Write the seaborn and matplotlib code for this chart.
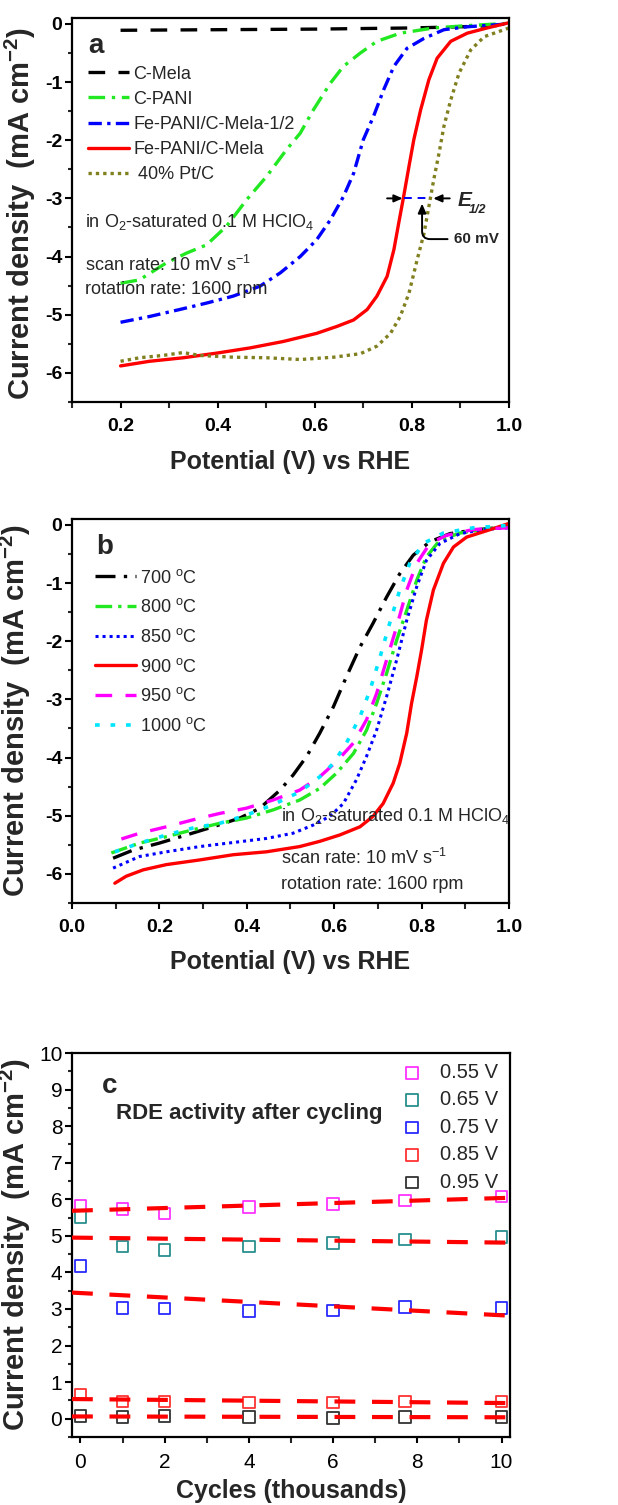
import matplotlib
matplotlib.use('Agg')
import numpy as np
import pandas as pd
import seaborn as sns
import matplotlib.pyplot as plt
from matplotlib.ticker import MultipleLocator

# ---------------- panel a: LSV curves of the catalysts ----------------
cmela_v = [0.20, 0.30, 0.40, 0.50, 0.60, 0.70, 0.80, 0.90, 1.00]
cmela_j = [-0.11, -0.105, -0.10, -0.095, -0.09, -0.08, -0.07, -0.05, -0.02]

cpani_v = [0.200, 0.239, 0.294, 0.336, 0.377, 0.418, 0.460, 0.501, 0.542, 0.570,
           0.597, 0.632, 0.659, 0.694, 0.728, 0.776, 0.845, 0.914, 1.000]
cpani_j = [-4.46, -4.40, -4.11, -3.94, -3.80, -3.48, -3.02, -2.62, -2.16, -1.88,
           -1.48, -1.02, -0.73, -0.50, -0.30, -0.16, -0.07, -0.03, 0.01]

fehalf_v = [0.200, 0.260, 0.322, 0.377, 0.432, 0.487, 0.529, 0.570, 0.604, 0.632,
            0.659, 0.680, 0.700, 0.721, 0.742, 0.763, 0.790, 0.825, 0.866, 0.914, 1.000]
fehalf_j = [-5.13, -5.03, -4.91, -4.80, -4.68, -4.51, -4.28, -4.00, -3.71, -3.37,
            -2.97, -2.57, -1.99, -1.59, -1.13, -0.73, -0.42, -0.25, -0.10, -0.05, 0.00]

fe_v = [0.200, 0.260, 0.329, 0.398, 0.467, 0.535, 0.604, 0.646, 0.680, 0.708, 0.728,
        0.749, 0.763, 0.773, 0.783, 0.794, 0.804, 0.818, 0.835, 0.852, 0.880, 0.914,
        0.955, 1.000]
fe_j = [-5.88, -5.80, -5.74, -5.66, -5.57, -5.46, -5.32, -5.20, -5.09, -4.91, -4.68,
        -4.34, -3.88, -3.42, -2.97, -2.45, -1.99, -1.48, -0.96, -0.59, -0.30, -0.16,
        -0.07, 0.02]

pt_v = [0.200, 0.239, 0.287, 0.329, 0.363, 0.432, 0.501, 0.570, 0.639, 0.694, 0.728,
        0.756, 0.776, 0.794, 0.811, 0.825, 0.835, 0.845, 0.856, 0.866, 0.880, 0.897,
        0.921, 0.949, 1.000]
pt_j = [-5.80, -5.74, -5.70, -5.65, -5.70, -5.73, -5.74, -5.77, -5.73, -5.67, -5.54,
        -5.32, -5.03, -4.63, -4.05, -3.60, -3.14, -2.68, -2.22, -1.76, -1.31, -0.85,
        -0.45, -0.22, -0.07]

e_half_fe = 0.784
e_half_pt = 0.840
e_half_j = -3.0

# ---------------- panel b: pyrolysis temperature ----------------
t700_v = [0.094, 0.140, 0.200, 0.262, 0.323, 0.384, 0.430, 0.476, 0.506, 0.537, 0.567,
          0.598, 0.628, 0.659, 0.689, 0.720, 0.750, 0.781, 0.819, 0.865, 0.918, 0.998]
t700_j = [-5.73, -5.59, -5.47, -5.33, -5.19, -5.04, -4.87, -4.56, -4.30, -3.98, -3.58,
          -3.13, -2.61, -2.10, -1.69, -1.24, -0.84, -0.52, -0.29, -0.15, -0.09, -0.03]

t800_v = [0.090, 0.155, 0.216, 0.277, 0.338, 0.399, 0.460, 0.521, 0.567, 0.605, 0.644,
          0.674, 0.697, 0.720, 0.743, 0.766, 0.789, 0.811, 0.842, 0.888, 0.941, 0.998]
t800_j = [-5.64, -5.47, -5.36, -5.24, -5.13, -5.04, -4.90, -4.73, -4.53, -4.27, -3.93,
          -3.53, -3.07, -2.55, -1.98, -1.47, -0.95, -0.55, -0.26, -0.14, -0.08, -0.03]

t850_v = [0.094, 0.155, 0.216, 0.292, 0.369, 0.445, 0.506, 0.552, 0.590, 0.621, 0.651,
          0.674, 0.697, 0.720, 0.743, 0.766, 0.789, 0.811, 0.842, 0.888, 0.941, 0.998]
t850_j = [-5.90, -5.70, -5.62, -5.53, -5.46, -5.39, -5.30, -5.16, -5.01, -4.79, -4.38,
          -3.98, -3.53, -2.95, -2.32, -1.64, -1.06, -0.61, -0.32, -0.15, -0.08, -0.05]

t900_v = [0.098, 0.124, 0.163, 0.216, 0.292, 0.369, 0.445, 0.521, 0.567, 0.613, 0.659,
          0.689, 0.712, 0.735, 0.750, 0.766, 0.777, 0.789, 0.800, 0.811, 0.827, 0.850,
          0.873, 0.903, 0.949, 0.998]
t900_j = [-6.16, -6.04, -5.93, -5.84, -5.76, -5.67, -5.62, -5.53, -5.44, -5.33, -5.19,
          -5.01, -4.79, -4.44, -4.10, -3.58, -3.07, -2.61, -2.15, -1.64, -1.12, -0.66,
          -0.38, -0.21, -0.10, 0.02]

t950_v = [0.113, 0.155, 0.216, 0.277, 0.338, 0.399, 0.460, 0.521, 0.567, 0.605, 0.644,
          0.674, 0.697, 0.720, 0.743, 0.766, 0.789, 0.819, 0.857, 0.918, 0.998]
t950_j = [-5.40, -5.30, -5.19, -5.07, -4.96, -4.87, -4.73, -4.56, -4.33, -4.07, -3.75,
          -3.35, -2.90, -2.32, -1.75, -1.12, -0.66, -0.32, -0.18, -0.08, -0.05]

t1000_v = [0.098, 0.155, 0.216, 0.277, 0.338, 0.399, 0.460, 0.521, 0.567, 0.598, 0.628,
           0.659, 0.682, 0.705, 0.727, 0.750, 0.773, 0.804, 0.850, 0.918, 0.998]
t1000_j = [-5.62, -5.47, -5.33, -5.21, -5.13, -4.99, -4.81, -4.59, -4.33, -4.10, -3.75,
           -3.30, -2.84, -2.27, -1.69, -1.12, -0.66, -0.32, -0.14, -0.05, -0.01]

# ---------------- panel c: activity after cycling ----------------
cycles = [0, 1, 2, 4, 6, 7.7, 10]
j055 = [5.83, 5.74, 5.61, 5.79, 5.88, 5.97, 6.08]
j065 = [5.52, 4.71, 4.62, 4.71, 4.81, 4.90, 4.97]
j075 = [4.17, 3.03, 3.01, 2.94, 2.96, 3.05, 3.03]
j085 = [0.66, 0.47, 0.47, 0.44, 0.44, 0.47, 0.47]
j095 = [0.07, 0.05, 0.07, 0.05, 0.02, 0.05, 0.05]
volt_labels = ['0.55 V', '0.65 V', '0.75 V', '0.85 V', '0.95 V']

sns.set_style('ticks')
plt.rcParams['font.family'] = ['Liberation Sans', 'DejaVu Sans']
plt.rcParams['mathtext.fontset'] = 'custom'
plt.rcParams['mathtext.rm'] = 'Liberation Sans'
plt.rcParams['mathtext.it'] = 'Liberation Sans:italic'
plt.rcParams['mathtext.bf'] = 'Liberation Sans:bold'
plt.rcParams['axes.unicode_minus'] = False

fig = plt.figure(figsize=(6.18, 15.05), dpi=100)
ax_a = fig.add_axes([0.1165, 0.7329, 0.7071, 0.2551])
ax_b = fig.add_axes([0.1165, 0.4000, 0.7071, 0.2551])
ax_c = fig.add_axes([0.1165, 0.0452, 0.7087, 0.2551])

ylab = 'Current density  (mA cm$^{\\mathbf{-2}}$)'


def style_axis(ax, bold=True, size=14):
    for s in ax.spines.values():
        s.set_linewidth(1.6)
        s.set_color('black')
    ax.tick_params(which='major', direction='out', length=5, width=1.5,
                   labelsize=size, colors='black', pad=2)
    ax.tick_params(which='minor', direction='out', length=3, width=1.5)
    ax.tick_params(axis='x', which='both', length=4.5, pad=7)
    if bold:
        for t in ax.get_xticklabels() + ax.get_yticklabels():
            t.set_fontweight('bold')


def line(ax, v, j, color, ls, lw, label):
    sns.lineplot(x=v, y=j, ax=ax, color=color, linestyle=ls, lw=lw,
                 label=label, sort=False, estimator=None)


# ---- a ----
line(ax_a, cmela_v, cmela_j, 'black', (0, (5, 4)), 2.4, 'C-Mela')
line(ax_a, cpani_v, cpani_j, '#22e822', (0, (5, 2, 1, 2)), 2.4, 'C-PANI')
line(ax_a, fehalf_v, fehalf_j, '#0000ff', (0, (4, 1.6, 1, 1.6)), 2.4, 'Fe-PANI/C-Mela-1/2')
line(ax_a, fe_v, fe_j, '#ff0000', '-', 2.4, 'Fe-PANI/C-Mela')
line(ax_a, pt_v, pt_j, '#808020', (0, (1, 1.2)), 2.4, ' 40% Pt/C')

ax_a.set_xlim(0.1, 1.0)
ax_a.set_ylim(-6.5, 0.1)
ax_a.xaxis.set_major_locator(MultipleLocator(0.2))
ax_a.xaxis.set_minor_locator(MultipleLocator(0.1))
ax_a.yaxis.set_major_locator(MultipleLocator(1))
ax_a.yaxis.set_minor_locator(MultipleLocator(0.5))
ax_a.set_xticks([0.2, 0.4, 0.6, 0.8, 1.0])
ax_a.set_xticklabels(['0.2', '0.4', '0.6', '0.8', '1.0'])
style_axis(ax_a)
ax_a.legend(loc='upper left', bbox_to_anchor=(0.02, 0.895), frameon=False,
            fontsize=13, handlelength=2.3, handletextpad=0.2, labelspacing=0.45,
            borderaxespad=0)
ax_a.set_xlabel('Potential (V) vs RHE', fontsize=18, fontweight='bold')
ax_a.set_ylabel(ylab, fontsize=21, fontweight='bold')
ax_a.xaxis.set_label_coords(0.5, -0.125)
ax_a.yaxis.set_label_coords(-0.078, 0.49)
ax_a.text(0.133, -0.38, 'a', fontsize=20, fontweight='bold', va='center')
ax_a.text(0.126, -3.40, 'in O$_2$-saturated 0.1 M HClO$_4$', fontsize=13, va='center')
ax_a.text(0.126, -4.14, 'scan rate: 10 mV s$^{-1}$', fontsize=13, va='center')
ax_a.text(0.126, -4.57, 'rotation rate: 1600 rpm', fontsize=13, va='center')

# half-wave potential marks
ax_a.plot([e_half_fe, e_half_pt], [e_half_j, e_half_j], color='#0000ff', lw=1.4,
          ls=(0, (4, 3)))
arrow = dict(arrowstyle='-|>,head_length=0.5,head_width=0.22', color='black', lw=1.4,
             shrinkA=0, shrinkB=0)
ax_a.annotate('', xy=(e_half_fe - 0.003, e_half_j), xytext=(e_half_fe - 0.035, e_half_j),
              arrowprops=arrow)
ax_a.annotate('', xy=(e_half_pt + 0.004, e_half_j), xytext=(e_half_pt + 0.038, e_half_j),
              arrowprops=arrow)
ax_a.text(0.894, -3.03, 'E', fontsize=15, fontweight='bold', fontstyle='italic', va='center')
ax_a.text(0.918, -3.20, '1/2', fontsize=9, fontweight='bold', fontstyle='italic', va='center')
ax_a.annotate('60 mV', xy=(0.821, -3.09), xytext=(0.886, -3.70), fontsize=11,
              fontweight='bold', va='center',
              arrowprops=dict(arrowstyle='-|>,head_length=0.5,head_width=0.22', color='black',
                              lw=1.4, shrinkA=2, shrinkB=0,
                              connectionstyle='angle,angleA=180,angleB=90,rad=8'))

# ---- b ----
line(ax_b, t700_v, t700_j, 'black', (0, (6, 2.5, 1, 2.5)), 2.4, '700 $^{\\mathrm{o}}$C')
line(ax_b, t800_v, t800_j, '#22e822', (0, (5, 1.8, 1, 1.8)), 2.4, '800 $^{\\mathrm{o}}$C')
line(ax_b, t850_v, t850_j, '#0000ff', (0, (1, 1.3)), 2.2, '850 $^{\\mathrm{o}}$C')
line(ax_b, t900_v, t900_j, '#ff0000', '-', 2.4, '900 $^{\\mathrm{o}}$C')
line(ax_b, t950_v, t950_j, '#ff00ff', (0, (5, 4)), 2.4, '950 $^{\\mathrm{o}}$C')
line(ax_b, t1000_v, t1000_j, '#00e5ff', (0, (1.3, 3)), 2.6, '1000 $^{\\mathrm{o}}$C')

ax_b.set_xlim(0.0, 1.0)
ax_b.set_ylim(-6.5, 0.1)
ax_b.xaxis.set_major_locator(MultipleLocator(0.2))
ax_b.xaxis.set_minor_locator(MultipleLocator(0.1))
ax_b.yaxis.set_major_locator(MultipleLocator(1))
ax_b.yaxis.set_minor_locator(MultipleLocator(0.5))
ax_b.set_xticks([0.0, 0.2, 0.4, 0.6, 0.8, 1.0])
ax_b.set_xticklabels(['0.0', '0.2', '0.4', '0.6', '0.8', '1.0'])
style_axis(ax_b)
ax_b.legend(loc='upper left', bbox_to_anchor=(0.037, 0.89), frameon=False,
            fontsize=13, handlelength=2.25, handletextpad=0.2, labelspacing=0.65,
            borderaxespad=0)
ax_b.set_xlabel('Potential (V) vs RHE', fontsize=18, fontweight='bold')
ax_b.set_ylabel(ylab, fontsize=21, fontweight='bold')
ax_b.xaxis.set_label_coords(0.5, -0.122)
ax_b.yaxis.set_label_coords(-0.089, 0.5)
ax_b.text(0.055, -0.38, 'b', fontsize=20, fontweight='bold', va='center')
ax_b.text(0.479, -5.01, 'in O$_2$-saturated 0.1 M HClO$_4$', fontsize=13, va='center')
ax_b.text(0.479, -5.73, 'scan rate: 10 mV s$^{-1}$', fontsize=13, va='center')
ax_b.text(0.479, -6.18, 'rotation rate: 1600 rpm', fontsize=13, va='center')

# ---- c ----
ax_c.set_xlim(-0.2, 10.2)
ax_c.set_ylim(-0.5, 10)
series_c = [j055, j065, j075, j085, j095]
colors_c = ['#ff33ff', '#2a8f8f', '#2a2aff', '#ff3333', '#333333']
for vals, col, lab in zip(series_c, colors_c, volt_labels):
    ax_c.scatter(cycles, vals, marker='s', s=70, facecolors='none', edgecolors=col,
                 linewidths=1.3, label=lab, zorder=2)
for vals in series_c:
    sns.regplot(x=np.array(cycles), y=np.array(vals), ax=ax_c, scatter=False, ci=None,
                truncate=False,
                line_kws=dict(color='#ff0000', lw=3, ls=(0, (5, 4)), zorder=3))
ax_c.set_xlim(-0.2, 10.2)
ax_c.xaxis.set_major_locator(MultipleLocator(2))
ax_c.xaxis.set_minor_locator(MultipleLocator(1))
ax_c.yaxis.set_major_locator(MultipleLocator(1))
ax_c.yaxis.set_minor_locator(MultipleLocator(0.5))
style_axis(ax_c, bold=False, size=15)
ax_c.legend(loc='upper left', bbox_to_anchor=(0.712, 0.995), frameon=False,
            fontsize=14.5, handlelength=2.0, handletextpad=0.4, labelspacing=0.42,
            borderaxespad=0, scatterpoints=1)
ax_c.set_xlabel('Cycles (thousands)', fontsize=18, fontweight='bold')
ax_c.set_ylabel(ylab, fontsize=21, fontweight='bold')
ax_c.xaxis.set_label_coords(0.5, -0.109)
ax_c.yaxis.set_label_coords(-0.089, 0.5)
ax_c.text(0.5, 9.09, 'c', fontsize=20, fontweight='bold', va='center')
ax_c.text(0.84, 8.34, 'RDE activity after cycling', fontsize=16, fontweight='bold',
          va='center')

fig.savefig('out.png', dpi=100)
